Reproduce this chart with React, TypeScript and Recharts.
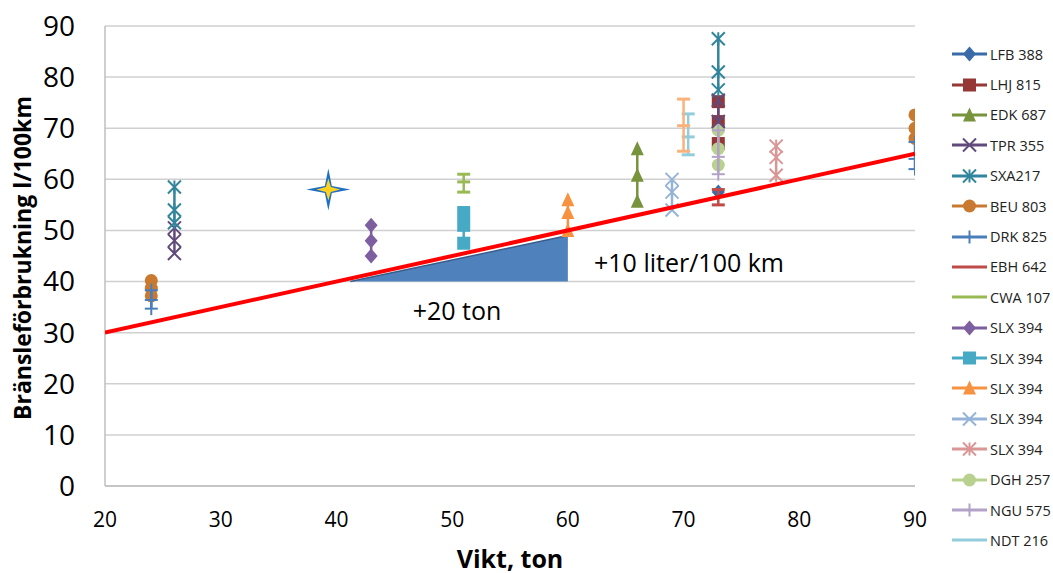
import { ComposedChart, Scatter, Area, XAxis, YAxis, CartesianGrid } from 'recharts';

const FONT = '"Open Sans", sans-serif';

const X_TICKS = [20, 30, 40, 50, 60, 70, 80, 90];
const Y_TICKS = [0, 10, 20, 30, 40, 50, 60, 70, 80, 90];

// measured fuel use per vehicle (weight in ton, l/100km)
const LFB_388 = [{ x: 73, y: 57.5 }];
const LHJ_815 = [{ x: 73, y: 75.2 }, { x: 73, y: 71.3 }, { x: 73, y: 67 }];
const EDK_687 = [{ x: 66, y: 66 }, { x: 66, y: 60.8 }, { x: 66, y: 55.7 }];
const TPR_355 = [{ x: 26, y: 50.5 }, { x: 26, y: 48 }, { x: 26, y: 45.5 }];
const SXA217 = [{ x: 26, y: 58.5 }, { x: 26, y: 54 }, { x: 26, y: 51.5 }];
const BEU_803 = [{ x: 24, y: 40.2 }, { x: 24, y: 38.7 }, { x: 24, y: 37.2 }];
const DRK_825 = [{ x: 24, y: 38.3 }, { x: 24, y: 36.4 }, { x: 24, y: 34.7 }];
const EBH_642 = [{ x: 73, y: 58 }, { x: 73, y: 55 }];
const CWA_107 = [{ x: 51, y: 61 }, { x: 51, y: 59.5 }, { x: 51, y: 57.5 }];
const SLX_A = [{ x: 43, y: 51 }, { x: 43, y: 48 }, { x: 43, y: 45 }];
const SLX_B = [{ x: 51, y: 53.5 }, { x: 51, y: 51 }, { x: 51, y: 47.5 }];
const SLX_C = [{ x: 60, y: 56 }, { x: 60, y: 53.5 }, { x: 60, y: 50 }];
const SLX_D = [{ x: 69, y: 60 }, { x: 69, y: 57.5 }, { x: 69, y: 54 }];
const SLX_E = [{ x: 78, y: 66.5 }, { x: 78, y: 64.3 }, { x: 78, y: 60.8 }];
const DGH_257 = [{ x: 73, y: 69.6 }, { x: 73, y: 66 }, { x: 73, y: 62.8 }];
const NGU_575 = [{ x: 73, y: 69.6 }, { x: 73, y: 64.4 }, { x: 73, y: 61 }];
const NDT_216 = [{ x: 70.4, y: 72.8 }, { x: 70.4, y: 68.3 }, { x: 70.4, y: 64.8 }];

// series that are cut off the legend
const EXTRA_PEACH = [{ x: 70, y: 75.7 }, { x: 70, y: 70.5 }, { x: 70, y: 65.5 }];
const EXTRA_TEAL = [{ x: 73, y: 87.5 }, { x: 73, y: 81 }, { x: 73, y: 77.5 }];
const EXTRA_PURPLE = [{ x: 73, y: 75.5 }, { x: 73, y: 71.3 }];
const EXTRA_ORANGE = [{ x: 90, y: 72.6 }, { x: 90, y: 70 }, { x: 90, y: 68 }];
const EXTRA_BLUE = [{ x: 90, y: 67.3 }, { x: 90, y: 64 }, { x: 90, y: 62 }];

const TREND = [{ x: 20, y: 30 }, { x: 90, y: 65 }];
const SLOPE_TRIANGLE = [{ x: 41.2, y: 40 }, { x: 60, y: 49 }];
const TRIANGLE_BASE = 40;
const HIGHLIGHT = [{ x: 39.3, y: 58 }];

type Kind = 'diamond' | 'square' | 'triangle' | 'x' | 'asterisk' | 'circle' | 'plus' | 'dash';

const series: { name: string; kind: Kind; color: string; pts: { x: number; y: number }[]; legend: boolean }[] = [
  { name: 'LFB 388', kind: 'diamond', color: '#3a6aa8', pts: LFB_388, legend: true },
  { name: 'LHJ 815', kind: 'square', color: '#953735', pts: LHJ_815, legend: true },
  { name: 'EDK 687', kind: 'triangle', color: '#77933c', pts: EDK_687, legend: true },
  { name: 'TPR 355', kind: 'x', color: '#604a7b', pts: TPR_355, legend: true },
  { name: 'SXA217', kind: 'asterisk', color: '#31859c', pts: SXA217, legend: true },
  { name: 'BEU 803', kind: 'circle', color: '#c97a30', pts: BEU_803, legend: true },
  { name: 'DRK 825', kind: 'plus', color: '#4a7ebb', pts: DRK_825, legend: true },
  { name: 'EBH 642', kind: 'dash', color: '#be4b48', pts: EBH_642, legend: true },
  { name: 'CWA 107', kind: 'dash', color: '#98b954', pts: CWA_107, legend: true },
  { name: 'SLX 394', kind: 'diamond', color: '#7d5fa0', pts: SLX_A, legend: true },
  { name: 'SLX 394', kind: 'square', color: '#46aac5', pts: SLX_B, legend: true },
  { name: 'SLX 394', kind: 'triangle', color: '#f69240', pts: SLX_C, legend: true },
  { name: 'SLX 394', kind: 'x', color: '#95b3d7', pts: SLX_D, legend: true },
  { name: 'SLX 394', kind: 'asterisk', color: '#d99694', pts: SLX_E, legend: true },
  { name: 'DGH 257', kind: 'circle', color: '#b9d18e', pts: DGH_257, legend: true },
  { name: 'NGU 575', kind: 'plus', color: '#b3a2c7', pts: NGU_575, legend: true },
  { name: 'NDT 216', kind: 'dash', color: '#93cddd', pts: NDT_216, legend: true },
  { name: 'extra 1', kind: 'dash', color: '#fab27a', pts: EXTRA_PEACH, legend: false },
  { name: 'extra 2', kind: 'asterisk', color: '#31859c', pts: EXTRA_TEAL, legend: false },
  { name: 'extra 3', kind: 'x', color: '#604a7b', pts: EXTRA_PURPLE, legend: false },
  { name: 'extra 4', kind: 'circle', color: '#c97a30', pts: EXTRA_ORANGE, legend: false },
  { name: 'extra 5', kind: 'plus', color: '#4a7ebb', pts: EXTRA_BLUE, legend: false },
];

function Marker({ cx, cy, kind, color }: { cx: number; cy: number; kind: Kind; color: string }) {
  const r = 6.5;
  switch (kind) {
    case 'diamond':
      return <polygon points={`${cx},${cy - r - 1} ${cx + r},${cy} ${cx},${cy + r + 1} ${cx - r},${cy}`} fill={color} />;
    case 'square':
      return <rect x={cx - r} y={cy - r} width={r * 2} height={r * 2} fill={color} />;
    case 'triangle':
      return <polygon points={`${cx},${cy - r - 1} ${cx + r},${cy + r} ${cx - r},${cy + r}`} fill={color} />;
    case 'circle':
      return <circle cx={cx} cy={cy} r={r} fill={color} />;
    case 'x':
      return (
        <g stroke={color} strokeWidth={2}>
          <line x1={cx - r} y1={cy - r} x2={cx + r} y2={cy + r} />
          <line x1={cx - r} y1={cy + r} x2={cx + r} y2={cy - r} />
        </g>
      );
    case 'asterisk':
      return (
        <g stroke={color} strokeWidth={2}>
          <line x1={cx - r} y1={cy - r} x2={cx + r} y2={cy + r} />
          <line x1={cx - r} y1={cy + r} x2={cx + r} y2={cy - r} />
          <line x1={cx} y1={cy - r} x2={cx} y2={cy + r} />
        </g>
      );
    case 'plus':
      return (
        <g stroke={color} strokeWidth={2}>
          <line x1={cx - r} y1={cy} x2={cx + r} y2={cy} />
          <line x1={cx} y1={cy - r} x2={cx} y2={cy + r} />
        </g>
      );
    case 'dash':
      return <line x1={cx - r} y1={cy} x2={cx + r} y2={cy} stroke={color} strokeWidth={3} />;
  }
  return <g />;
}

function Star({ cx, cy }: { cx: number; cy: number }) {
  const w = 22, h = 21, i = 3.5;
  const outer = `${cx},${cy - h} ${cx + i},${cy - i} ${cx + w},${cy} ${cx + i},${cy + i} ${cx},${cy + h} ${cx - i},${cy + i} ${cx - w},${cy} ${cx - i},${cy - i}`;
  const w2 = 12, h2 = 11, i2 = 2.5;
  const inner = `${cx},${cy - h2} ${cx + i2},${cy - i2} ${cx + w2},${cy} ${cx + i2},${cy + i2} ${cx},${cy + h2} ${cx - i2},${cy + i2} ${cx - w2},${cy} ${cx - i2},${cy - i2}`;
  return (
    <g>
      <polygon points={outer} fill="#1f6fc4" />
      <polygon points={inner} fill="#ffd21f" />
    </g>
  );
}

function LegendList() {
  const rows = series.filter(s => s.legend);
  return (
    <div style={{ position: 'absolute', left: 950, top: 39, fontFamily: FONT, fontSize: 14.5, color: '#222' }}>
      {rows.map((s, idx) => (
        <div key={idx} style={{ display: 'flex', alignItems: 'center', height: 30.4 }}>
          <svg width={40} height={16} style={{ display: 'block' }}>
            <line x1={2} y1={8} x2={37} y2={8} stroke={s.color} strokeWidth={3} />
            {s.kind !== 'dash' && <Marker cx={19.5} cy={8} kind={s.kind} color={s.color} />}
          </svg>
          <span style={{ whiteSpace: 'nowrap' }}>{s.name}</span>
        </div>
      ))}
    </div>
  );
}

export default function App() {
  return (
    <div style={{ position: 'absolute', left: 0, top: 0, width: 1053, height: 573, background: '#fff' }}>
      <ComposedChart width={1053} height={573} margin={{ top: 26, right: 138, bottom: 0, left: 0 }}>
        <CartesianGrid vertical={false} stroke="#d0d0d0" strokeWidth={1.5} />
        <XAxis
          type="number"
          dataKey="x"
          domain={[20, 90]}
          ticks={X_TICKS}
          allowDataOverflow
          height={87}
          axisLine={{ stroke: '#bfbfbf', strokeWidth: 1.5 }}
          tickLine={false}
          tickMargin={20}
          tick={{ fontSize: 21, fill: '#000', fontFamily: FONT }}
        />
        <YAxis
          type="number"
          dataKey="y"
          domain={[0, 90]}
          ticks={Y_TICKS}
          allowDataOverflow
          width={105}
          axisLine={{ stroke: '#bfbfbf', strokeWidth: 1.5 }}
          tickLine={false}
          tickMargin={24}
          tick={{ fontSize: 28, fill: '#000', fontFamily: FONT }}
        />
        <Area
          data={SLOPE_TRIANGLE}
          dataKey="y"
          type="linear"
          baseValue={TRIANGLE_BASE}
          fill="#4f81bd"
          fillOpacity={1}
          stroke="#385d8a"
          strokeWidth={1.5}
          isAnimationActive={false}
          legendType="none"
        />
        {series.map((s, idx) => (
          <Scatter
            key={idx}
            name={s.name}
            data={s.pts}
            dataKey="y"
            fill={s.color}
            line={{ stroke: s.color, strokeWidth: 2.5 }}
            shape={(p: any) => <Marker cx={p.cx} cy={p.cy} kind={s.kind} color={s.color} />}
            isAnimationActive={false}
            legendType="none"
          />
        ))}
        <Scatter
          name="trend"
          data={TREND}
          dataKey="y"
          line={{ stroke: '#ff0000', strokeWidth: 4 }}
          shape={() => <g />}
          isAnimationActive={false}
          legendType="none"
        />
        <Scatter
          name="highlight"
          data={HIGHLIGHT}
          dataKey="y"
          shape={(p: any) => <Star cx={p.cx} cy={p.cy} />}
          isAnimationActive={false}
          legendType="none"
        />
      </ComposedChart>

      <div style={{ position: 'absolute', left: 22, top: 258, transform: 'translate(-50%, -50%) rotate(-90deg)', fontFamily: FONT, fontWeight: 700, fontSize: 23, whiteSpace: 'nowrap' }}>
        Bränsleförbrukning l/100km
      </div>
      <div style={{ position: 'absolute', left: 510, top: 558, transform: 'translate(-50%, -50%)', fontFamily: FONT, fontWeight: 700, fontSize: 25, whiteSpace: 'nowrap' }}>
        Vikt, ton
      </div>
      <div style={{ position: 'absolute', left: 457, top: 310, transform: 'translate(-50%, -50%)', fontFamily: FONT, fontSize: 25, whiteSpace: 'nowrap' }}>
        +20 ton
      </div>
      <div style={{ position: 'absolute', left: 689, top: 262, transform: 'translate(-50%, -50%)', fontFamily: FONT, fontSize: 25, whiteSpace: 'nowrap' }}>
        +10 liter/100 km
      </div>
      <LegendList />
    </div>
  );
}
